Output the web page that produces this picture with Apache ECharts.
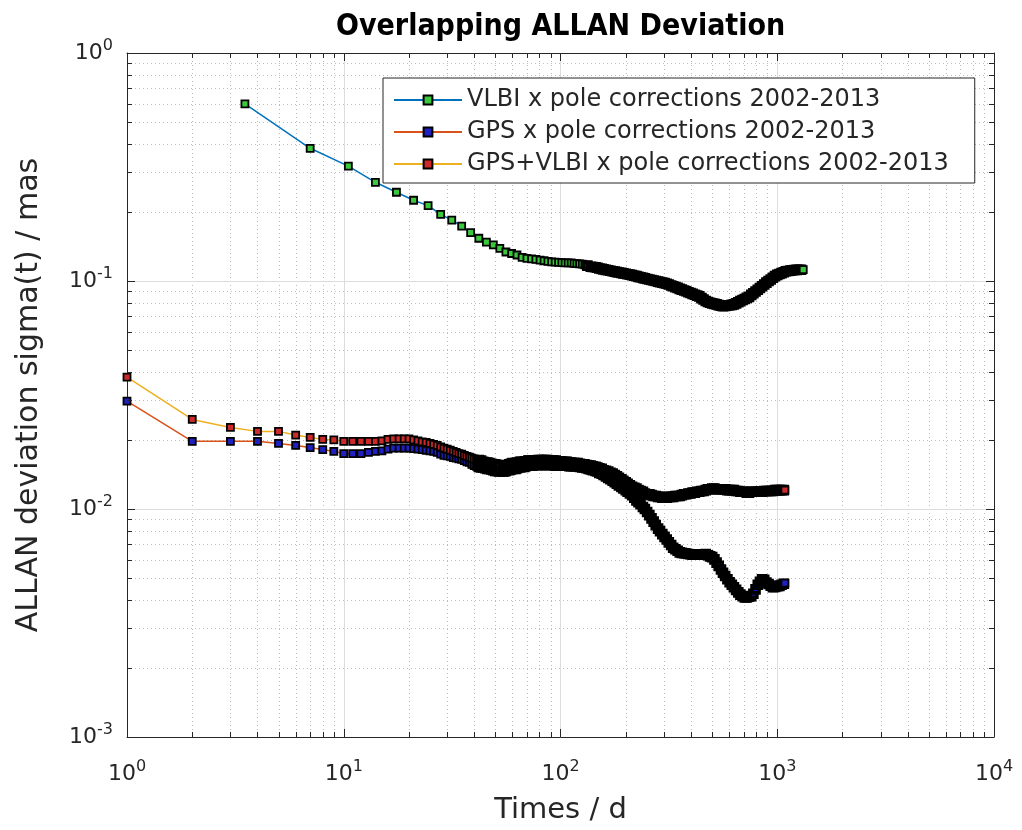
<!DOCTYPE html>
<html>
<head>
<meta charset="utf-8">
<script src="https://cdn.jsdelivr.net/npm/echarts@6/dist/echarts.min.js"></script>
<style>
html,body{margin:0;padding:0;background:#fff;}
#main{width:1022px;height:830px;}
</style>
</head>
<body>
<div id="main"></div>
<script>
// ---------------- DATA ----------------
var seriesNames = ['VLBI x pole corrections 2002-2013', 'GPS x pole corrections 2002-2013', 'GPS+VLBI x pole corrections 2002-2013'];

// averaging times (days) for the VLBI series
var vlbiTau = [3.5,7,10.5,14,17.5,21,24.5,28,31.5,35,38.5,42,45.5,49,52.5,56,59.5,63,66.5,70,73.5,77,80.5,84,87.5,91,94.5,98,101.5,105,108.5,112,115.5,119,122.5,126,129.5,133,
138,141,145,148,151,155,158,162,166,170,174,178,182,186,191,195,200,204,209,214,219,224,229,234,240,245,251,257,263,269,275,282,288,295,302,309,316,324,331,339,347,355,363,372,380,389,398,407,417,427,437,447,457,468,479,490,501,513,525,537,550,562,575,589,603,617,631,646,661,676,692,708,724,741,759,776,794,813,832,851,871,891,912,933,955,977,1000,1023,1047,1072,1096,1122,1148,1175,1202,1230,1259,1288,1318];

var vlbiSigma = [0.598,0.382,0.319,0.271,0.245,0.226,0.214,0.196,0.185,0.174,
0.163,0.154,0.148,0.144,0.139,0.134,0.132,0.130,0.127,0.1257,
0.1250,0.1244,0.1235,0.1227,0.1218,0.1212,0.1209,0.1207,0.1205,0.1201,
0.1200,0.1200,0.1196,0.1193,0.1189,0.1185,0.1178,0.1168,
0.1154,0.1152,0.1149,0.1143,0.1135,0.1130,0.1125,
0.1119,0.1114,0.1109,0.1104,0.1099,0.1094,0.1090,0.1085,0.1080,0.1076,
0.1070,0.1066,0.1061,0.1055,0.1050,0.1043,0.1038,0.1032,0.1027,0.1021,
0.1015,0.1010,0.1005,0.1000,0.0994,0.0989,0.0984,0.0979,0.0973,0.0965,
0.0956,0.0949,0.0940,0.0933,0.0924,0.0917,0.0909,0.0901,0.0893,0.0886,
0.0878,0.0871,0.0863,0.0856,0.0841,0.0829,0.0817,0.0809,0.0803,0.0798,
0.0794,0.0790,0.0784,0.0779,0.0776,0.0778,0.0781,0.0783,0.0786,0.0790,
0.0798,0.0807,0.0816,0.0825,0.0834,0.0843,0.0852,0.0869,0.0884,0.0900,
0.0916,0.0932,0.0949,0.0966,0.0984,0.1000,0.1016,0.1033,0.1050,0.1064,
0.1073,0.1083,0.1093,0.1103,0.1107,0.1111,0.1114,0.1117,0.1119,0.1120,0.1121,0.1122];

// averaging times (days) shared by the two GPS series
var gpsTau = [1,2,3,4,5,6,7,8,9,10,11,12,13,14,15,16,17,18,19,20,21,22,23,24,25,26,27,28,29,30,31,32,33,34,35,36,37,38,39,
40,41,42,43,44,45,46,47,48,49,50,51,52,54,55,56,58,59,60,62,63,65,66,68,69,71,72,74,76,78,79,81,83,85,87,89,91,93,95,98,100,
102,105,107,110,112,115,117,120,123,126,
129,132,135,138,141,145,148,151,155,158,
162,166,170,174,178,182,186,191,195,200,
204,209,214,219,224,229,234,240,245,251,
257,263,269,275,282,288,295,302,309,316,
324,331,339,347,355,363,372,380,389,398,
407,417,427,437,447,457,468,479,490,501,
513,525,537,550,562,575,589,603,617,631,
646,661,676,692,708,724,741,759,776,794,
813,832,851,871,891,912,933,955,977,1000,
1023,1047,1072,1085];

var gpsSigma = [0.0297,0.0198,0.0198,0.0198,0.0194,0.0190,0.0186,0.0182,0.0179,0.0175,
0.0175,0.0175,0.0177,0.0179,0.0180,0.0183,0.0185,0.0185,0.0185,0.0185,
0.0184,0.0183,0.0182,0.0181,0.0180,0.0179,0.0177,0.0174,0.0172,0.0171,
0.0170,0.0168,0.0167,0.0166,0.0165,0.0163,0.0161,0.0160,0.0157,
0.0155,0.0154,0.0153,0.0152,0.0152,0.0151,0.0150,0.0150,0.0149,0.0148,0.0147,
0.0147,0.0146,0.0146,0.0146,0.0147,0.0148,0.0149,0.0150,0.0150,0.0151,
0.0152,0.0153,0.0153,0.0154,0.0155,0.0155,0.0155,0.0156,0.0156,0.0156,
0.0156,0.0156,0.0156,0.0156,0.0156,0.0156,0.0156,0.0155,0.0155,0.0155,
0.0155,0.0155,0.0155,0.0154,0.0154,0.0154,0.0154,0.0154,0.0153,0.0152,
0.0152,0.0151,0.0150,0.0149,0.0148,0.0147,0.0146,0.0144,0.0143,0.0141,
0.0139,0.0137,0.0135,0.0133,0.0131,0.0129,0.0127,0.0125,0.0123,0.0121,
0.0119,0.0117,0.0115,0.0112,0.0109,0.0107,0.0105,0.0102,0.0100,0.0097,
0.0094,0.0091,0.0088,0.0085,0.0082,0.0080,0.00776,0.00755,0.00735,0.00714,
0.00695,0.00676,0.00666,0.00656,0.00645,0.00642,0.00640,0.00638,0.00635,0.00633,
0.00630,0.00630,0.00631,0.00631,0.00632,0.00633,0.00634,0.00627,0.00620,0.00615,
0.00601,0.00582,0.00563,0.00543,0.00525,0.00508,0.00492,0.00477,0.00465,0.00454,
0.00442,0.00431,0.00421,0.00415,0.00409,0.00409,0.00412,0.00414,0.00425,0.00444,
0.00465,0.00480,0.00492,0.00489,0.00476,0.00469,0.00461,0.00454,0.00455,0.00458,
0.00460,0.00465,0.00470,0.00473];

var comboSigma = [0.0379,0.0247,0.0228,0.0219,0.0219,0.0211,0.0206,0.0202,0.0201,0.0198,
0.0198,0.0198,0.0198,0.0198,0.0199,0.0202,0.0203,0.0203,0.0203,0.0203,
0.0201,0.0199,0.0197,0.0196,0.0194,0.0192,0.0190,0.0187,0.0185,0.0183,
0.0181,0.0179,0.0177,0.0175,0.0174,0.0172,0.0170,0.0169,0.0167,
0.0166,0.0165,0.0164,0.0163,0.0161,0.0160,0.0160,0.0159,0.0158,0.0157,0.0157,
0.0156,0.0155,0.0155,0.0155,0.0156,0.0157,0.0158,0.0159,0.0159,0.0160,
0.0161,0.0161,0.0161,0.0162,0.0163,0.0163,0.0163,0.0163,0.0163,0.0164,
0.0164,0.0164,0.0164,0.0164,0.0163,0.0163,0.0163,0.0163,0.0162,0.0162,
0.0161,0.0161,0.0161,0.0160,0.0160,0.0159,0.0159,0.0159,0.0158,0.0157,
0.0157,0.0156,0.0155,0.0155,0.0154,0.0153,0.0152,0.0151,0.0150,0.0148,
0.0147,0.0146,0.0144,0.0143,0.0141,0.0139,0.0137,0.0135,0.0133,0.0131,
0.0129,0.0127,0.0125,0.0124,0.0123,0.0121,0.0120,0.0119,0.0117,0.0116,
0.0116,0.0115,0.0114,0.0114,0.0113,0.0113,0.0112,0.0112,0.0112,0.0113,
0.0113,0.0113,0.0114,0.0114,0.0114,0.0115,0.0116,0.0116,0.0117,0.0117,
0.0118,0.0118,0.0119,0.0119,0.0120,0.0120,0.0121,0.0122,0.0122,0.0123,
0.0123,0.0122,0.0122,0.0122,0.0122,0.0122,0.0121,0.0121,0.0121,0.0121,
0.0120,0.0120,0.0119,0.0119,0.0119,0.0118,0.0118,0.0119,0.0119,0.0119,
0.0119,0.0119,0.0119,0.0120,0.0120,0.0120,0.0120,0.0120,0.0121,0.0121,
0.0121,0.0121,0.0121,0.0121];

// axis ticks
var xMajorTicks = [1, 10, 100, 1000, 10000];
var yMajorTicks = [0.001, 0.01, 0.1, 1];
var xMinorTicks = [2,3,4,5,6,7,8,9,20,30,40,50,60,70,80,90,200,300,400,500,600,700,800,900,2000,3000,4000,5000,6000,7000,8000,9000];
var yMinorTicks = [0.002,0.003,0.004,0.005,0.006,0.007,0.008,0.009,0.02,0.03,0.04,0.05,0.06,0.07,0.08,0.09,0.2,0.3,0.4,0.5,0.6,0.7,0.8,0.9];

// ---------------- CHART ----------------
var AX = '#262626';
var FONT = 'DejaVu Sans';
// Where the markers crowd into one another (hundreds of overlapping squares in the original),
// their black edges merge into a solid band; emulate that with a heavier edge there.
var DENSE_EDGE = 3.6;
function toData(tau, sig, denseFromTau) {
  return tau.map(function (t, i) {
    var p = { value: [t, sig[i]] };
    if (t >= denseFromTau && i < tau.length - 1) p.itemStyle = { borderWidth: DENSE_EDGE };
    return p;
  });
}
function powLabel(v) {
  var e = Math.round(Math.log(v) / Math.LN10);
  return '{b|10}{s|' + e + '}';
}
var labelRich = {
  b: { fontFamily: FONT, fontSize: 22, color: AX },
  s: { fontFamily: FONT, fontSize: 16, color: AX, padding: [0, 0, 15, 0] }
};

var chart = echarts.init(document.getElementById('main'), null, { renderer: 'canvas' });

function mkSeries(name, data, lineColor, faceColor) {
  return {
    name: name, type: 'line', data: data,
    symbol: 'rect', symbolSize: 7, showSymbol: true,
    lineStyle: { color: lineColor, width: 1.5 },
    itemStyle: { color: faceColor, borderColor: '#000', borderWidth: 1.8 },
    emphasis: { disabled: true },
    animation: false, clip: false
  };
}

var option = {
  animation: false,
  backgroundColor: '#fff',
  title: {
    text: 'Overlapping ALLAN Deviation', left: 331, top: 7,
    textStyle: { fontFamily: 'DejaVu Sans Condensed, DejaVu Sans', fontWeight: 'bold', fontSize: 30, color: '#000' }
  },
  grid: { left: 127, right: 28, top: 53, bottom: 93, containLabel: false },
  legend: {
    orient: 'vertical', left: 383, top: 78,
    data: seriesNames,
    backgroundColor: '#fff', borderColor: AX, borderWidth: 1, borderRadius: 0,
    padding: [10, 26, 7, 10], itemWidth: 68, itemHeight: 11, itemGap: 8,
    textStyle: { fontFamily: FONT, fontSize: 24, color: AX },
    selectedMode: false
  },
  xAxis: [{
    type: 'log', logBase: 10, min: xMajorTicks[0], max: xMajorTicks[xMajorTicks.length - 1],
    position: 'bottom',
    name: 'Times / d', nameLocation: 'middle', nameGap: 59,
    nameTextStyle: { fontFamily: FONT, fontSize: 29, color: AX },
    axisLine: { show: true, onZero: false, lineStyle: { color: AX, width: 1 } },
    axisTick: { show: true, inside: true, length: 8, lineStyle: { color: AX } },
    axisLabel: { formatter: powLabel, rich: labelRich, margin: 22 },
    splitLine: { show: true, lineStyle: { color: '#dcdcdc', width: 1 } },
    minorTick: { show: false }, minorSplitLine: { show: false }
  }, {
    type: 'log', logBase: 10, min: xMajorTicks[0], max: xMajorTicks[xMajorTicks.length - 1],
    position: 'top',
    axisLine: { show: true, onZero: false, lineStyle: { color: AX, width: 1 } },
    axisTick: { show: true, inside: true, length: 8, lineStyle: { color: AX } },
    axisLabel: { show: false }, splitLine: { show: false }
  }],
  yAxis: [{
    type: 'log', logBase: 10, min: yMajorTicks[0], max: yMajorTicks[yMajorTicks.length - 1],
    position: 'left',
    name: 'ALLAN deviation sigma(t) / mas', nameLocation: 'middle', nameGap: 83, nameRotate: 90,
    nameTextStyle: { fontFamily: FONT, fontSize: 30, color: AX },
    axisLine: { show: true, onZero: false, lineStyle: { color: AX, width: 1 } },
    axisTick: { show: true, inside: true, length: 8, lineStyle: { color: AX } },
    axisLabel: { formatter: powLabel, rich: labelRich, margin: 14 },
    splitLine: { show: true, lineStyle: { color: '#dcdcdc', width: 1 } }
  }, {
    type: 'log', logBase: 10, min: yMajorTicks[0], max: yMajorTicks[yMajorTicks.length - 1],
    position: 'right',
    axisLine: { show: true, onZero: false, lineStyle: { color: AX, width: 1 } },
    axisTick: { show: true, inside: true, length: 8, lineStyle: { color: AX } },
    axisLabel: { show: false }, splitLine: { show: false }
  }],
  series: [
    mkSeries(seriesNames[0], toData(vlbiTau, vlbiSigma, 130), '#0072BD', '#3cc83c'),
    mkSeries(seriesNames[1], toData(gpsTau, gpsSigma, 42), '#D95319', '#2020c0'),
    mkSeries(seriesNames[2], toData(gpsTau, comboSigma, 42), '#EDB120', '#cc2a2a')
  ]
};
chart.setOption(option);

// minor (dotted) grid lines and minor ticks on all four sides
function px(axis, v) {
  var o = {}; o[axis] = 0;
  return chart.convertToPixel(o, v);
}
function crisp(v) { return Math.round(v) + 0.5; }
var g = [];
var xL = px('xAxisIndex', xMajorTicks[0]), xR = px('xAxisIndex', xMajorTicks[xMajorTicks.length - 1]);
var yB = px('yAxisIndex', yMajorTicks[0]), yT = px('yAxisIndex', yMajorTicks[yMajorTicks.length - 1]);
xMinorTicks.forEach(function (v) {
  var x = crisp(px('xAxisIndex', v));
  g.push({ type: 'line', silent: true, z: -1, shape: { x1: x, y1: yT, x2: x, y2: yB }, style: { stroke: '#bdbdbd', lineWidth: 1, lineDash: [1, 3] } });
  g.push({ type: 'line', silent: true, z: 10, shape: { x1: x, y1: yB, x2: x, y2: yB - 5 }, style: { stroke: AX, lineWidth: 1 } });
  g.push({ type: 'line', silent: true, z: 10, shape: { x1: x, y1: yT, x2: x, y2: yT + 5 }, style: { stroke: AX, lineWidth: 1 } });
});
yMinorTicks.forEach(function (v) {
  var y = crisp(px('yAxisIndex', v));
  g.push({ type: 'line', silent: true, z: -1, shape: { x1: xL, y1: y, x2: xR, y2: y }, style: { stroke: '#bdbdbd', lineWidth: 1, lineDash: [1, 3] } });
  g.push({ type: 'line', silent: true, z: 10, shape: { x1: xL, y1: y, x2: xL + 5, y2: y }, style: { stroke: AX, lineWidth: 1 } });
  g.push({ type: 'line', silent: true, z: 10, shape: { x1: xR, y1: y, x2: xR - 5, y2: y }, style: { stroke: AX, lineWidth: 1 } });
});
chart.setOption({ graphic: { elements: g } });
</script>
</body>
</html>
